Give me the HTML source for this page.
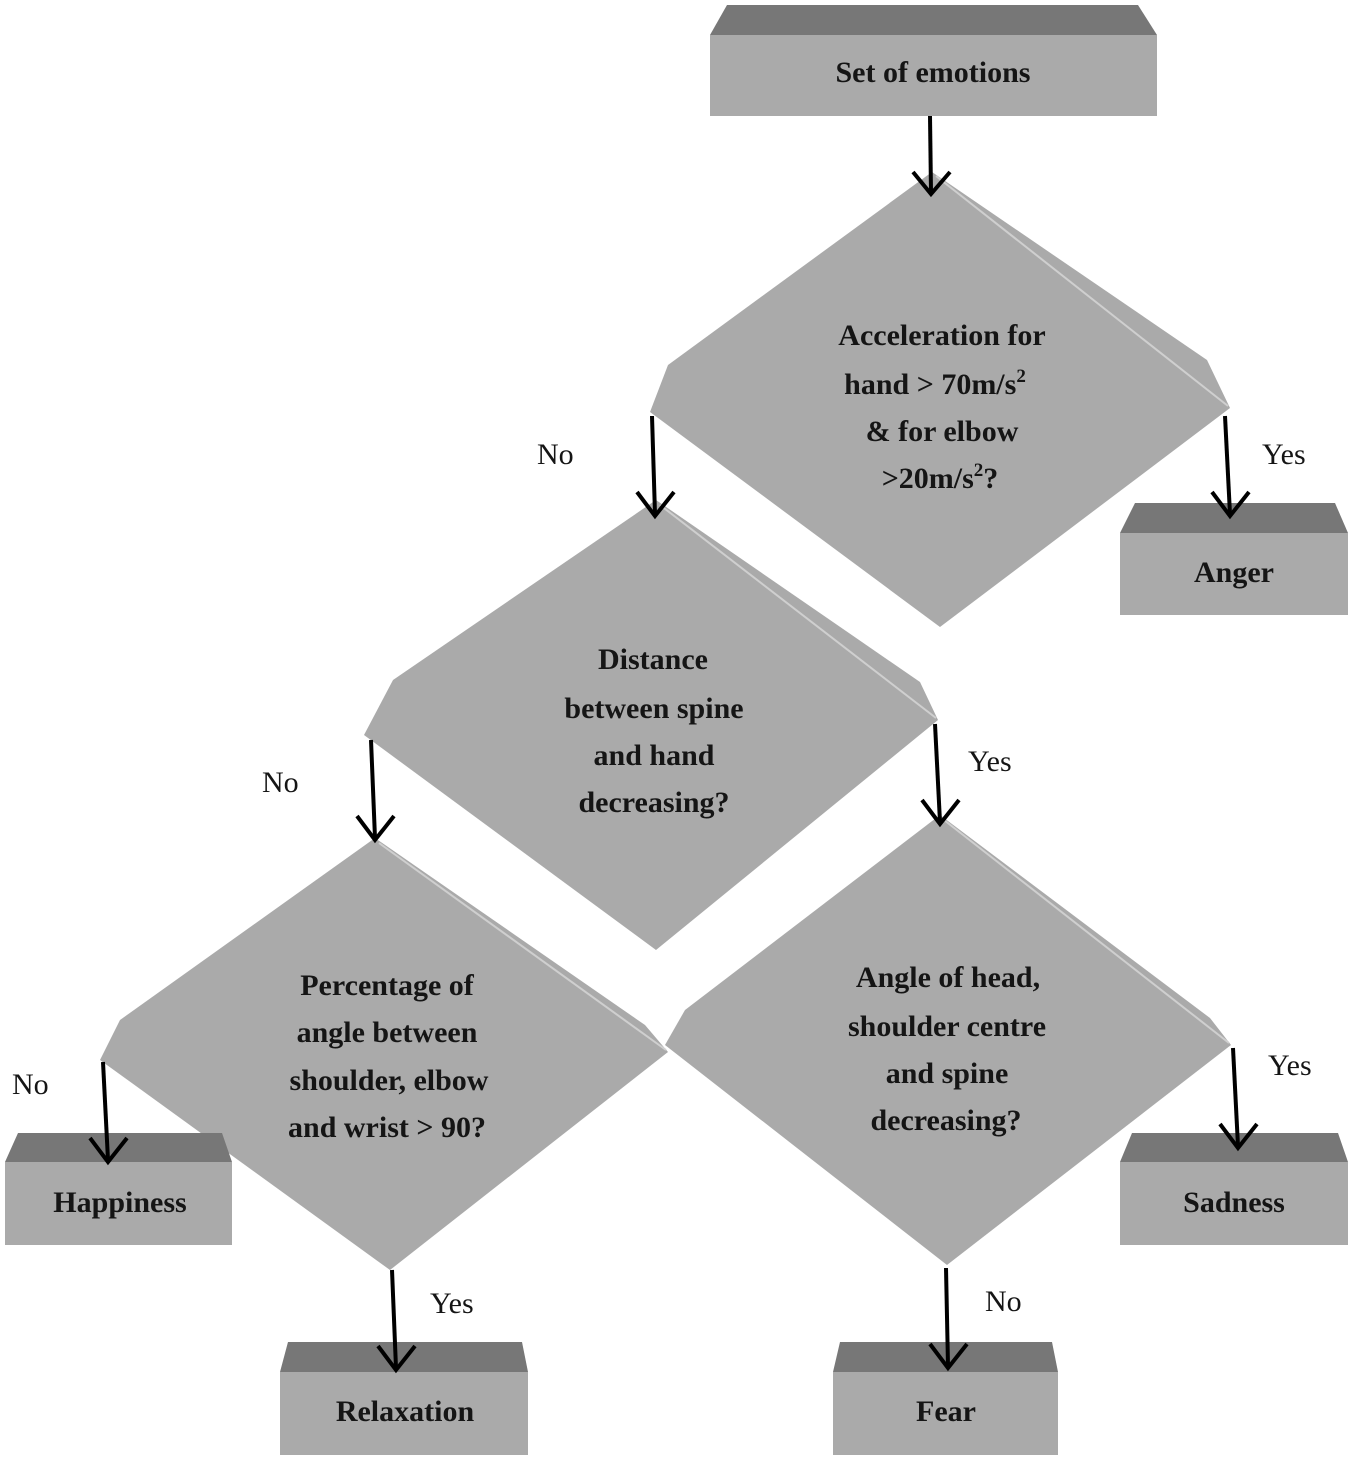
<!DOCTYPE html>
<html><head><meta charset="utf-8"><style>
html,body{margin:0;padding:0;background:#fff;}
svg{display:block;}
text{font-family:"Liberation Serif",serif;font-weight:bold;font-size:30px;fill:#151515;}
</style></head><body>
<svg width="1354" height="1458" viewBox="0 0 1354 1458" xmlns="http://www.w3.org/2000/svg">
<defs>
<marker id="ah" markerWidth="10" markerHeight="10" refX="5" refY="8" orient="auto" markerUnits="userSpaceOnUse" viewBox="0 0 10 10"></marker>
</defs>
<g fill="#aaaaaa">
<!-- diamonds -->
<polygon points="932,172 1207,360 1230,408 940,627 650,412 668,365"/>
<polygon points="656,500 920,682 938,720 656,950 364,735 393,680"/>
<polygon points="375,838 645,1025 668,1052 390,1270 100,1060 120,1020"/>
<polygon points="940,815 1210,1018 1231,1045 947,1265 665,1045 685,1010"/>
</g>
<g stroke="#cfcfcf" stroke-width="2" fill="none">
<line x1="936" y1="176" x2="1228" y2="406"/>
<line x1="660" y1="505" x2="936" y2="718"/>
<line x1="379" y1="843" x2="666" y2="1050"/>
<line x1="944" y1="820" x2="1229" y2="1043"/>
</g>
<!-- boxes -->
<g>
<polygon points="727,5 1138,5 1157,35 710,35" fill="#777"/>
<rect x="710" y="35" width="447" height="81" fill="#aaa"/>
<polygon points="1135,503 1335,503 1348,533 1120,533" fill="#777"/>
<rect x="1120" y="533" width="228" height="82" fill="#aaa"/>
<polygon points="18,1133 222,1133 232,1162 5,1162" fill="#777"/>
<rect x="5" y="1162" width="227" height="83" fill="#aaa"/>
<polygon points="1132,1133 1338,1133 1348,1162 1120,1162" fill="#777"/>
<rect x="1120" y="1162" width="228" height="83" fill="#aaa"/>
<polygon points="288,1342 522,1342 528,1372 280,1372" fill="#777"/>
<rect x="280" y="1372" width="248" height="83" fill="#aaa"/>
<polygon points="840,1342 1052,1342 1058,1372 833,1372" fill="#777"/>
<rect x="833" y="1372" width="225" height="83" fill="#aaa"/>
</g>
<!-- arrows -->
<g stroke="#000" stroke-width="4" fill="none">
<line x1="930" y1="116" x2="931" y2="192"/>
<line x1="652" y1="416" x2="655" y2="514"/>
<line x1="1225" y1="416" x2="1230" y2="514"/>
<line x1="371" y1="740" x2="375" y2="838"/>
<line x1="935" y1="724" x2="940" y2="822"/>
<line x1="103" y1="1062" x2="108" y2="1160"/>
<line x1="1233" y1="1048" x2="1238" y2="1146"/>
<line x1="392" y1="1270" x2="396" y2="1368"/>
<line x1="946" y1="1268" x2="948" y2="1366"/>
</g>
<g fill="none" stroke="#000" stroke-width="4" stroke-linejoin="miter">
<polyline points="913,172 931,194 950,172"/>
<polyline points="637,492 655,516 674,492"/>
<polyline points="1212,492 1230,516 1249,492"/>
<polyline points="357,816 375,840 394,816"/>
<polyline points="922,800 940,824 959,800"/>
<polyline points="90,1138 108,1162 127,1138"/>
<polyline points="1220,1124 1238,1148 1257,1124"/>
<polyline points="378,1346 396,1370 415,1346"/>
<polyline points="930,1344 948,1368 967,1344"/>
</g>
<!-- labels -->
<g text-anchor="middle">
<text x="933" y="82">Set of emotions</text>
<text x="942" y="345">Acceleration for</text>
<text x="935" y="394">hand &gt; 70m/s<tspan font-size="19" dy="-12">2</tspan></text>
<text x="942" y="441">&amp; for elbow</text>
<text x="940" y="488">&gt;20m/s<tspan font-size="19" dy="-12">2</tspan><tspan dy="12">?</tspan></text>
<text x="1234" y="582">Anger</text>
<text x="653" y="669">Distance</text>
<text x="654" y="718">between spine</text>
<text x="654" y="765">and hand</text>
<text x="654" y="812">decreasing?</text>
<text x="387" y="995">Percentage of</text>
<text x="387" y="1042">angle between</text>
<text x="389" y="1090">shoulder, elbow</text>
<text x="387" y="1137">and wrist &gt; 90?</text>
<text x="948" y="987">Angle  of head,</text>
<text x="947" y="1036">shoulder centre</text>
<text x="947" y="1083">and spine</text>
<text x="946" y="1130">decreasing?</text>
<text x="120" y="1212">Happiness</text>
<text x="1234" y="1212">Sadness</text>
<text x="405" y="1421">Relaxation</text>
<text x="946" y="1421">Fear</text>
</g>
<g style="font-weight:normal">
<text x="537" y="464" style="font-weight:normal">No</text>
<text x="1262" y="464" style="font-weight:normal">Yes</text>
<text x="262" y="792" style="font-weight:normal">No</text>
<text x="968" y="771" style="font-weight:normal">Yes</text>
<text x="12" y="1094" style="font-weight:normal">No</text>
<text x="1268" y="1075" style="font-weight:normal">Yes</text>
<text x="430" y="1313" style="font-weight:normal">Yes</text>
<text x="985" y="1311" style="font-weight:normal">No</text>
</g>
</svg>
</body></html>
